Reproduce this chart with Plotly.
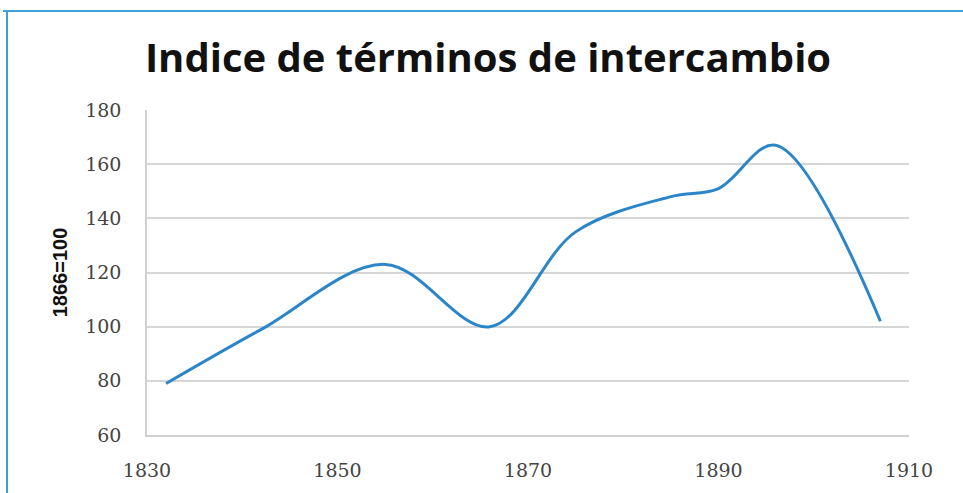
import plotly.graph_objects as go

years = [1832, 1842, 1855, 1866, 1875, 1885, 1890, 1896, 1907]
index_values = [79, 99, 123, 100, 135, 148, 151, 167, 102]
y_ticks = [60, 80, 100, 120, 140, 160, 180]
x_ticks = [1830, 1850, 1870, 1890, 1910]

W, H = 963, 493
L, R, T, B = 147, 909, 110, 438

def px(x):
    return (x - L) / (R - L)

def py(y):
    return (B - y) / (B - T)

fig = go.Figure()
fig.add_trace(go.Scatter(
    x=years, y=index_values, mode="lines",
    line=dict(color="#2B86C9", width=3, shape="spline", smoothing=1.0),
    hoverinfo="x+y", showlegend=False,
))

fig.update_layout(
    width=W, height=H,
    margin=dict(l=L, r=W - R, t=T, b=H - B, pad=0),
    paper_bgcolor="white", plot_bgcolor="white",
    title=dict(text="<b>Indice de términos de intercambio</b>",
               font=dict(family="Open Sans", size=40, color="#111111"),
               x=488 / W, xanchor="center",
               y=1 - 58 / H, yanchor="middle"),
    xaxis=dict(range=[1830, 1910], tickvals=x_ticks, showgrid=False,
               showline=True, linecolor="#d0d0d0", linewidth=1.5,
               ticks="", ticklabelstandoff=17, zeroline=False,
               tickfont=dict(family="DejaVu Serif", size=19, color="#444444")),
    yaxis=dict(range=[60, 180], tickvals=y_ticks, showgrid=True,
               gridcolor="#d6d6d6", gridwidth=1.5,
               showline=True, linecolor="#d0d0d0", linewidth=1.5,
               ticks="", ticklabelstandoff=20, zeroline=False,
               tickfont=dict(family="DejaVu Serif", size=19, color="#444444"),
               title=dict(text="<b>1866=100</b>", standoff=12,
                          font=dict(family="Liberation Sans Narrow, Arial Narrow, Liberation Sans", size=20, color="#111111"))),
    shapes=[
        dict(type="line", xref="paper", yref="paper",
             x0=px(3), x1=px(W + 5), y0=py(10), y1=py(10),
             line=dict(color="#3FA0D9", width=2)),
        dict(type="line", xref="paper", yref="paper",
             x0=px(7), x1=px(7), y0=py(10), y1=py(H + 5),
             line=dict(color="#3FA0D9", width=2)),
    ],
)

fig.write_html("out.html", config={"displayModeBar": False},
               post_script="document.body.style.margin='0';document.body.style.padding='0';")
